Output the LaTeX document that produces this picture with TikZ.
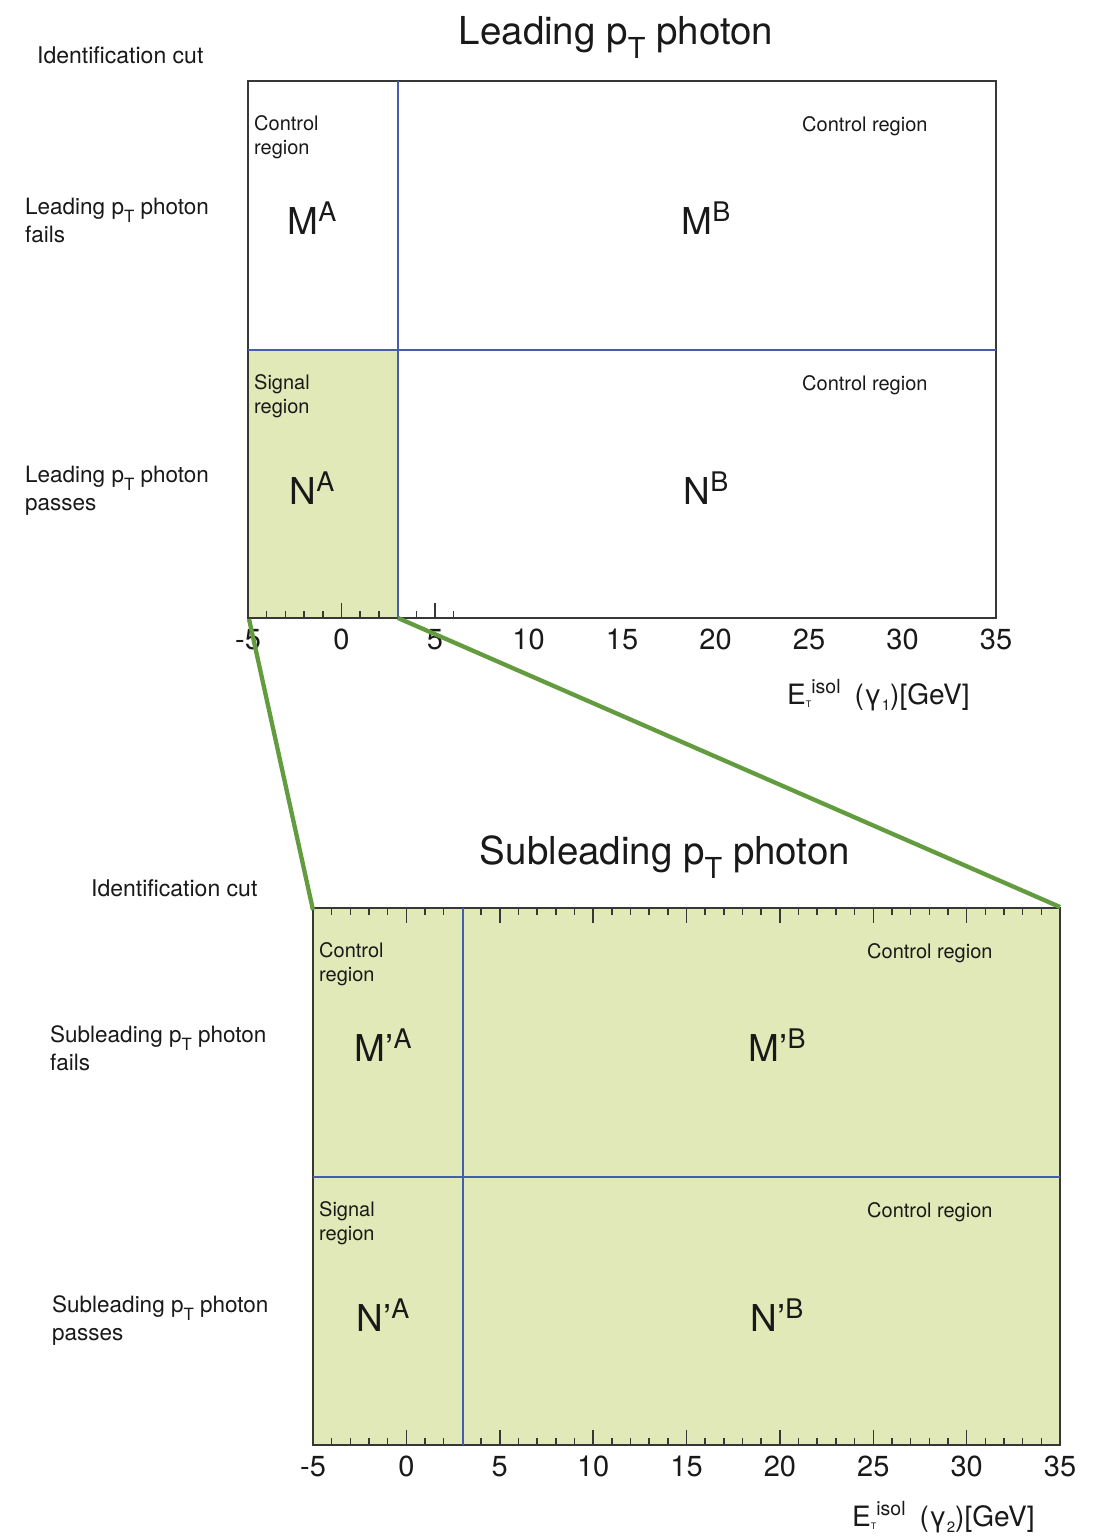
\documentclass[tikz,border=0pt]{standalone}
\usepackage{fontspec}
\setmainfont{TeX Gyre Heros}
\definecolor{sigfill}{RGB}{224,233,183}
\definecolor{divblue}{RGB}{70,92,175}
\definecolor{linkgreen}{RGB}{98,156,62}
\definecolor{framegray}{RGB}{55,55,55}
\definecolor{txt}{RGB}{25,25,25}
\newcommand{\myPT}{p\raisebox{-0.38em}{\fontsize{0.75em}{0.75em}\selectfont T}}
\newcommand{\myaxis}[1]{E\raisebox{-3pt}{\fontsize{9}{9}\selectfont T}\raisebox{11pt}{\fontsize{19.5}{19.5}\selectfont isol}\hspace{14pt}(γ\raisebox{-6pt}{\fontsize{15}{15}\selectfont #1})[GeV]}
\begin{document}
\begin{tikzpicture}[x=1pt,y=-1pt,
  frame/.style={draw=framegray,line width=1.4pt},
  divider/.style={draw=divblue,line width=1.6pt},
  tickmark/.style={draw=framegray,line width=1.5pt},
  link/.style={draw=linkgreen,line width=4.3pt},
  title/.style={font=\fontsize{38.5}{42}\selectfont,anchor=base,inner sep=0,text=txt},
  sidelab/.style={font=\fontsize{22.5}{28}\selectfont,anchor=base west,inner sep=0,align=left,text=txt},
  idlab/.style={font=\fontsize{23}{26}\selectfont,anchor=base west,inner sep=0,text=txt},
  reglab/.style={font=\fontsize{20}{24}\selectfont,anchor=base west,inner sep=0,align=left,text=txt},
  bigsym/.style={font=\fontsize{37}{40}\selectfont,anchor=base,inner sep=0,text=txt},
  ticklab/.style={font=\fontsize{29}{32}\selectfont,anchor=base,inner sep=0,text=txt},
  axlab/.style={font=\fontsize{28}{32}\selectfont,anchor=base west,inner sep=0,text=txt}
]
\useasboundingbox (0,0) rectangle (1102,1537);
\fill[white] (0,0) rectangle (1102,1537);

% ---------------- top panel ----------------
\fill[sigfill] (248,350) rectangle (398,618);
\draw[frame] (248,81) rectangle (996,618);
\foreach \v in {-4,...,6}{
  \pgfmathsetmacro\xx{248+(\v+5)*18.7}
  \pgfmathsetmacro\len{mod(\v,5)==0 ? 15 : 7}
  \draw[tickmark] (\xx,618) -- ++(0,-\len);
}
\draw[divider] (398,81) -- (398,618);
\draw[divider] (248,350) -- (996,350);
\foreach \v in {-5,0,...,35}{
  \pgfmathsetmacro\xx{248+(\v+5)*18.7}
  \node[ticklab] (ta\v) at (\xx,649) {\v};
}
\node[title] (t1) at (616,44) {Leading \myPT{} photon};
\node[idlab] (idc1) at (37,63) {Identification cut};
\node[sidelab] (lf) at (25,242) {Leading \myPT{} photon\\fails};
\node[sidelab] (lp) at (25,510) {Leading \myPT{} photon\\passes};
\node[reglab] (cr1) at (254,154) {Control\\region};
\node[reglab] (cr2) at (802,131) {Control region};
\node[reglab] (sr1) at (254,413) {Signal\\region};
\node[reglab] (cr3) at (802,390) {Control region};
\node[bigsym] (ma) at (312,234) {M\raisebox{13pt}{\fontsize{27}{27}\selectfont A}};
\node[bigsym] (mb) at (706,234) {M\raisebox{13pt}{\fontsize{27}{27}\selectfont B}};
\node[bigsym] (na) at (312,504) {N\raisebox{13pt}{\fontsize{27}{27}\selectfont A}};
\node[bigsym] (nb) at (706,504) {N\raisebox{13pt}{\fontsize{27}{27}\selectfont B}};
\node[axlab] (ax1) at (787,704) {\myaxis{1}};

% ---------------- bottom panel ----------------
\fill[sigfill] (313,908) rectangle (1060,1445);
\draw[frame] (313,908) rectangle (1060,1445);
\foreach \v in {-4,...,34}{
  \pgfmathsetmacro\xx{313+(\v+5)*18.675}
  \pgfmathsetmacro\len{mod(\v,5)==0 ? 15 : 7}
  \draw[tickmark] (\xx,1445) -- ++(0,-\len);
  \draw[tickmark] (\xx,908) -- ++(0,\len);
}
\draw[divider] (463,908) -- (463,1445);
\draw[divider] (313,1177) -- (1060,1177);
\foreach \v in {-5,0,...,35}{
  \pgfmathsetmacro\xx{313+(\v+5)*18.675}
  \node[ticklab] (tb\v) at (\xx,1476) {\v};
}
\node[title] (t2) at (665,864) {Subleading \myPT{} photon};
\node[idlab] (idc2) at (91,896) {Identification cut};
\node[sidelab] (sf) at (50,1070) {Subleading \myPT{} photon\\fails};
\node[sidelab] (sp) at (52,1340) {Subleading \myPT{} photon\\passes};
\node[reglab] (cr4) at (319,981) {Control\\region};
\node[reglab] (cr5) at (867,958) {Control region};
\node[reglab] (sr2) at (319,1240) {Signal\\region};
\node[reglab] (cr6) at (867,1217) {Control region};
\node[bigsym] (mpa) at (383,1061) {M’\raisebox{13pt}{\fontsize{27}{27}\selectfont A}};
\node[bigsym] (mpb) at (777,1061) {M’\raisebox{13pt}{\fontsize{27}{27}\selectfont B}};
\node[bigsym] (npa) at (383,1331) {N’\raisebox{13pt}{\fontsize{27}{27}\selectfont A}};
\node[bigsym] (npb) at (777,1331) {N’\raisebox{13pt}{\fontsize{27}{27}\selectfont B}};
\node[axlab] (ax2) at (852,1526) {\myaxis{2}};

% ---------------- zoom links ----------------
\coordinate (topL) at (249,619);
\coordinate (topR) at (398,618);
\coordinate (botL) at (313,910);
\coordinate (botR) at (1060,907);
\draw[link] (topL) -- (botL);
\draw[link] (topR) -- (botR);
\end{tikzpicture}
\end{document}
